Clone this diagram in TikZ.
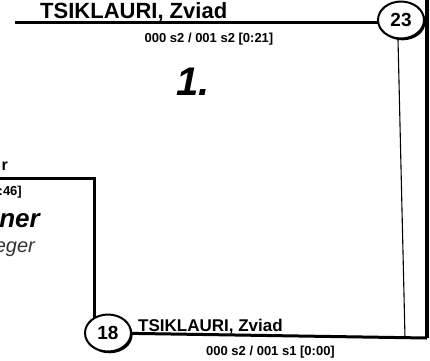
\documentclass[tikz,border=0pt]{standalone}
\usepackage{fontspec}
\setmainfont{Liberation Sans}
\usetikzlibrary{shapes.geometric,shadows,backgrounds}
\tikzset{
	seed/.style={ellipse,draw,line width=2pt,fill=white,minimum width=46pt,minimum height=37pt,inner sep=0pt,
		drop shadow={shadow xshift=1.6pt,shadow yshift=-1.8pt,fill=black,opacity=1},
		font=\bfseries\fontsize{19}{19}\selectfont},
	wire/.style={line width=3pt},
	boldtext/.style={font=\bfseries\fontsize{#1}{#1}\selectfont,inner sep=0pt},
}
\begin{document}
\begin{tikzpicture}[x=1pt,y=-1pt]
	\useasboundingbox (0,0) rectangle (430,360);
	
	\node[seed] (s23) at (401,20) {23};
	\node[seed] (s18) at (108,333) {18};
	
	\coordinate (topend) at (15,22);
	\coordinate (rtop) at (427,0);
	\coordinate (rcorner) at (427,338);
	\coordinate (thinend) at (405,338);
	\coordinate (lend) at (0,178);
	\coordinate (lcorner) at (94,178);
	
	\begin{pgfonlayer}{background}
		\draw[wire] (topend) -- (topend -| s23.center);
		\draw[line width=3.5pt] (rtop) -- (rcorner);
		\draw[line width=1.1pt] ([xshift=-3pt]s23.south) -- (thinend);
		\draw[wire] (s18.center) -- (rcorner);
		\draw[wire,line join=miter] (lend) -- (lcorner) -- (lcorner |- s18.center);
	\end{pgfonlayer}
	
	\node[boldtext=22,anchor=base west] (topname) at (40,18) {TSIKLAURI, Zviad};
	\node[boldtext=13,anchor=base] (topscore) at (209,42) {000 s2 / 001 s2 [0:21]};
	\node[font=\bfseries\itshape\fontsize{40}{40}\selectfont,inner sep=0pt,anchor=base] (place) at (193,95) {1.};
	
	\node[boldtext=17,anchor=base west] (botname) at (138,331) {TSIKLAURI, Zviad};
	\node[boldtext=13,anchor=base west] (botscore) at (206,355) {000 s2 / 001 s1 [0:00]};
	
	\node[boldtext=16,anchor=base east] (leftname) at (8,170) {r};
	\node[boldtext=13,anchor=base east] (leftscore) at (22,195) {:46]};
	\node[font=\bfseries\itshape\fontsize{26}{26}\selectfont,inner sep=0pt,anchor=base east] (winner) at (40,227) {ner};
	\node[font=\itshape\fontsize{20}{20}\selectfont,text=black!80,inner sep=0pt,anchor=base east] (label) at (35,252) {eger};
\end{tikzpicture}
\end{document}
